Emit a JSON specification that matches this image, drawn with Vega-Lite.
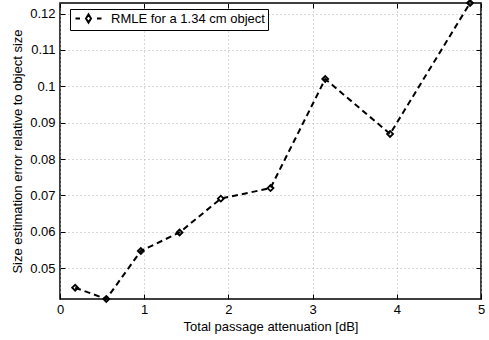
{
  "$schema": "https://vega.github.io/schema/vega-lite/v6.json",
  "width": 421,
  "height": 296,
  "autosize": "none",
  "padding": {"left": 60, "top": 3, "right": 8, "bottom": 41},
  "background": "white",
  "config": {
    "font": "Liberation Sans",
    "view": {"stroke": "black", "strokeWidth": 1.5},
    "axis": {"labelFont": "Liberation Sans", "titleFont": "Liberation Sans", "labelFontSize": 13, "titleFontSize": 13, "titleFontWeight": "normal", "labelColor": "black", "titleColor": "black"}
  },
  "data": {
    "values": [
      {"x": 0.18, "y": 0.0446, "series": "RMLE for a 1.34 cm object"},
      {"x": 0.55, "y": 0.0415, "series": "RMLE for a 1.34 cm object"},
      {"x": 0.96, "y": 0.0547, "series": "RMLE for a 1.34 cm object"},
      {"x": 1.42, "y": 0.0598, "series": "RMLE for a 1.34 cm object"},
      {"x": 1.91, "y": 0.0691, "series": "RMLE for a 1.34 cm object"},
      {"x": 2.50, "y": 0.0720, "series": "RMLE for a 1.34 cm object"},
      {"x": 3.15, "y": 0.1020, "series": "RMLE for a 1.34 cm object"},
      {"x": 3.92, "y": 0.0869, "series": "RMLE for a 1.34 cm object"},
      {"x": 4.87, "y": 0.1229, "series": "RMLE for a 1.34 cm object"}
    ]
  },
  "layer": [
    {
      "encoding": {
        "x": {
          "field": "x", "type": "quantitative",
          "scale": {"domain": [0, 5], "nice": false, "zero": false},
          "axis": {"orient": "bottom", "values": [0, 1, 2, 3, 4, 5], "format": "d", "ticks": false, "domain": false, "labelPadding": 4, "title": "Total passage attenuation [dB]", "titlePadding": 4, "grid": true, "gridColor": "#b0b0b0", "gridDash": [1, 3], "gridWidth": 1, "labelFlush": false}
        },
        "y": {
          "field": "y", "type": "quantitative",
          "scale": {"domain": [0.0415, 0.1229], "nice": false, "zero": false},
          "axis": {"orient": "left", "values": [0.05, 0.06, 0.07, 0.08, 0.09, 0.1, 0.11, 0.12], "format": "~g", "ticks": false, "domain": false, "labelPadding": 5, "title": "Size estimation error relative to object size", "titlePadding": 5, "grid": true, "gridColor": "#b0b0b0", "gridDash": [1, 3], "gridWidth": 1, "labelFlush": false}
        }
      },
      "layer": [
        {
          "mark": {"type": "line", "strokeDash": [6, 4], "strokeWidth": 2},
          "encoding": {
            "color": {"field": "series", "type": "nominal", "scale": {"range": ["black"]},
              "legend": {"title": null, "orient": "none", "legendX": 10, "legendY": 6, "strokeColor": "black", "fillColor": "white", "padding": 3, "labelFontSize": 13, "labelFont": "Liberation Sans", "labelColor": "black", "labelOffset": 16, "symbolOffset": 9,
                "symbolType": "M-2.6,0H-1.7M-0.5,0L0,-0.8L0.5,0L0,0.8ZM1.7,0H2.6", "symbolSize": 100, "symbolStrokeWidth": 2, "symbolStrokeColor": "black", "symbolFillColor": "transparent"}}
          }
        },
        {
          "mark": {"type": "point", "shape": "diamond", "filled": false, "size": 35, "strokeWidth": 1.8, "color": "black", "opacity": 1}
        }
      ]
    },
    {
      "mark": {"type": "rule", "opacity": 0},
      "encoding": {
        "x": {"field": "x", "type": "quantitative", "scale": {"domain": [0, 5], "nice": false, "zero": false}, "axis": {"orient": "bottom", "values": [0, 1, 2, 3, 4, 5], "labels": false, "title": null, "domain": false, "grid": false, "ticks": true, "tickSize": -5, "tickColor": "black", "tickWidth": 1}},
        "y": {"field": "y", "type": "quantitative", "scale": {"domain": [0.0415, 0.1229], "nice": false, "zero": false}, "axis": {"orient": "left", "values": [0.05, 0.06, 0.07, 0.08, 0.09, 0.1, 0.11, 0.12], "labels": false, "title": null, "domain": false, "grid": false, "ticks": true, "tickSize": -5, "tickColor": "black", "tickWidth": 1}}
      }
    },
    {
      "mark": {"type": "rule", "opacity": 0},
      "encoding": {
        "x": {"field": "x", "type": "quantitative", "scale": {"domain": [0, 5], "nice": false, "zero": false}, "axis": {"orient": "top", "values": [0, 1, 2, 3, 4, 5], "labels": false, "title": null, "domain": false, "grid": false, "ticks": true, "tickSize": -5, "tickColor": "black", "tickWidth": 1}},
        "y": {"field": "y", "type": "quantitative", "scale": {"domain": [0.0415, 0.1229], "nice": false, "zero": false}, "axis": {"orient": "right", "values": [0.05, 0.06, 0.07, 0.08, 0.09, 0.1, 0.11, 0.12], "labels": false, "title": null, "domain": false, "grid": false, "ticks": true, "tickSize": -5, "tickColor": "black", "tickWidth": 1}}
      }
    }
  ],
  "resolve": {"axis": {"x": "independent", "y": "independent"}}
}
